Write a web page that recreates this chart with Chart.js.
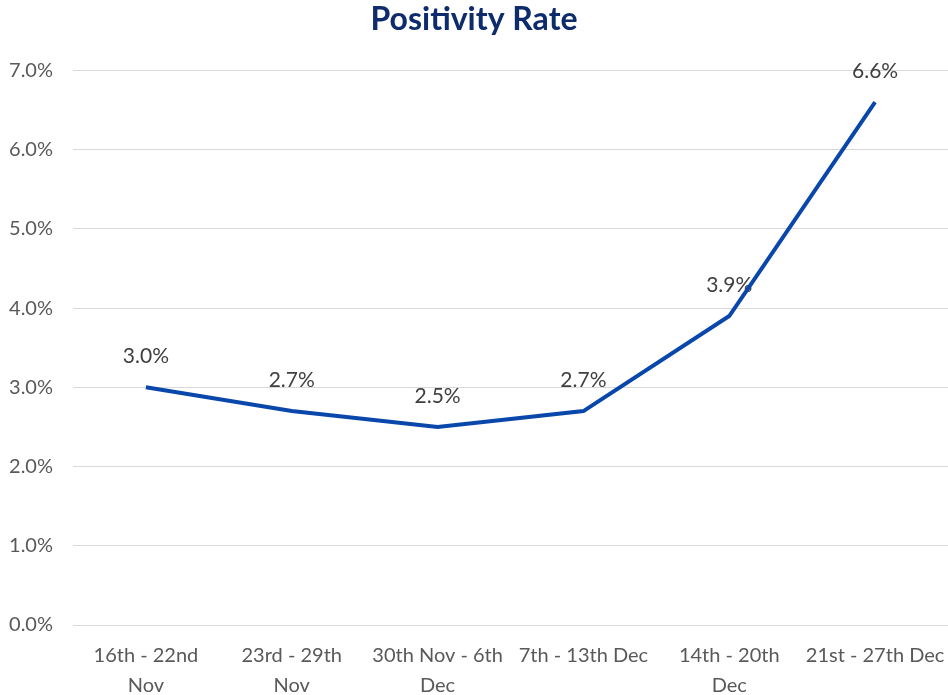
<!DOCTYPE html>
<html lang="en">
<head>
    <meta charset="UTF-8">
    <title>Positivity Rate</title>
    <script src="https://cdn.jsdelivr.net/npm/chart.js"></script>
    <style>
        html, body { margin: 0; padding: 0; background: #fff; }
        #wrap { width: 948px; height: 695px; }
    </style>
</head>
<body>
    <div id="wrap"><canvas id="rateChart"></canvas></div>
    <script>
        // weekly periods and positivity rate (%)
        const weeks = [
            ['16th - 22nd', 'Nov'],
            ['23rd - 29th', 'Nov'],
            ['30th Nov - 6th', 'Dec'],
            '7th - 13th Dec',
            ['14th - 20th', 'Dec'],
            '21st - 27th Dec'
        ];
        const rates = [3.0, 2.7, 2.5, 2.7, 3.9, 6.6];

        const FONT = 'Lato, "Open Sans", sans-serif';

        // value labels sit above each point, under the line
        const pointLabels = {
            id: 'pointLabels',
            beforeDatasetsDraw(chart) {
                const ctx = chart.ctx;
                const meta = chart.getDatasetMeta(0);
                ctx.save();
                ctx.font = '21px ' + FONT;
                ctx.fillStyle = '#404040';
                ctx.textAlign = 'center';
                ctx.textBaseline = 'middle';
                meta.data.forEach((pt, i) => {
                    ctx.fillText(rates[i].toFixed(1) + '%', pt.x, pt.y - 31);
                });
                ctx.restore();
            }
        };

        new Chart(document.getElementById('rateChart'), {
            type: 'line',
            data: {
                labels: weeks,
                datasets: [{
                    data: rates,
                    borderColor: '#0A47AA',
                    borderWidth: 4,
                    pointRadius: 0,
                    tension: 0,
                    fill: false
                }]
            },
            options: {
                responsive: true,
                maintainAspectRatio: false,
                animation: false,
                layout: { padding: 0 },
                plugins: {
                    legend: { display: false },
                    tooltip: { enabled: false },
                    title: {
                        display: true,
                        text: 'Positivity Rate',
                        color: '#0E2B6B',
                        font: { family: FONT, size: 32, weight: 'bold' },
                        padding: { top: 0, bottom: 32 }
                    }
                },
                scales: {
                    x: {
                        offset: true,
                        grid: { display: false },
                        border: { display: false },
                        ticks: {
                            autoSkip: false,
                            maxRotation: 0,
                            minRotation: 0,
                            color: '#595959',
                            font: { family: FONT, size: 20, lineHeight: 1.5 },
                            padding: 8
                        },
                        afterFit(s) {
                            s.paddingLeft = 0;
                            s.paddingRight = 0;
                            s.height = 70;
                        }
                    },
                    y: {
                        min: 0,
                        max: 7,
                        ticks: {
                            stepSize: 1,
                            color: '#595959',
                            font: { family: FONT, size: 20 },
                            padding: 20,
                            callback: v => v.toFixed(1) + '%'
                        },
                        grid: { color: '#D9D9D9', lineWidth: 1, drawTicks: false },
                        border: { display: false },
                        afterFit(s) { s.width = 73; }
                    }
                }
            },
            plugins: [pointLabels]
        });
    </script>
</body>
</html>
